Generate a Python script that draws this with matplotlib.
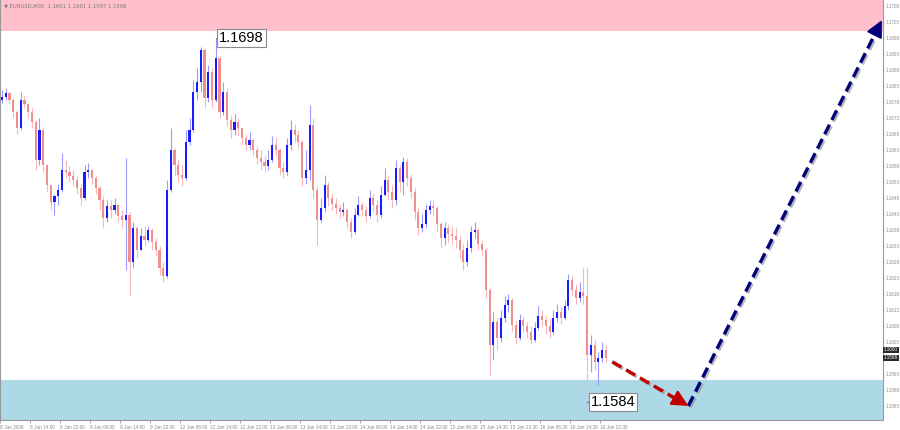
import matplotlib
matplotlib.use("Agg")
import matplotlib.pyplot as plt
import matplotlib.patheffects as pe

# ---------------- data (EURUSD M30) ----------------
first_open = 1.16786
close = [
    1.16796, 1.16808, 1.16786, 1.16749, 1.16699, 1.16786, 1.16774, 1.16749,
    1.16718, 1.16599, 1.16693, 1.16583, 1.16521, 1.16468, 1.16486, 1.16505,
    1.16568, 1.16561, 1.16549, 1.16536, 1.16511, 1.16480, 1.16561, 1.16568,
    1.16543, 1.16511, 1.16474, 1.16418, 1.16455, 1.16443, 1.16458, 1.16424,
    1.16411, 1.16427, 1.16280, 1.16386, 1.16318, 1.16361, 1.16349, 1.16380,
    1.16343, 1.16318, 1.16261, 1.16236, 1.16505, 1.16630, 1.16583, 1.16552,
    1.16543, 1.16655, 1.16693, 1.16811, 1.16843, 1.16943, 1.16793, 1.16874,
    1.16786, 1.16918, 1.16749, 1.16811, 1.16724, 1.16693, 1.16718, 1.16699,
    1.16668, 1.16646, 1.16661, 1.16630, 1.16605, 1.16593, 1.16580, 1.16599,
    1.16646, 1.16630, 1.16574, 1.16561, 1.16646, 1.16693, 1.16677, 1.16655,
    1.16543, 1.16568, 1.16708, 1.16505, 1.16411, 1.16449, 1.16521, 1.16480,
    1.16461, 1.16449, 1.16436, 1.16443, 1.16405, 1.16374, 1.16427, 1.16458,
    1.16443, 1.16424, 1.16480, 1.16458, 1.16427, 1.16490, 1.16536, 1.16499,
    1.16474, 1.16574, 1.16530, 1.16593, 1.16543, 1.16499, 1.16436, 1.16386,
    1.16399, 1.16443, 1.16455, 1.16449, 1.16399, 1.16355, 1.16386, 1.16368,
    1.16361, 1.16349, 1.16318, 1.16280, 1.16324, 1.16374, 1.16380, 1.16336,
    1.16318, 1.16193, 1.16021, 1.16093, 1.16043, 1.16105, 1.16146, 1.16161,
    1.16083, 1.16043, 1.16099, 1.16080, 1.16061, 1.16036, 1.16074, 1.16111,
    1.16099, 1.16080, 1.16061, 1.16105, 1.16124, 1.16105, 1.16143, 1.16224,
    1.16193, 1.16168, 1.16186, 1.16174, 1.15989, 1.16021, 1.15968, 1.15980,
    1.16005, 1.15980,
]
high = [
    1.16818, 1.16824, 1.16811, 1.16793, 1.16755, 1.16811, 1.16799, 1.16774,
    1.16761, 1.16724, 1.16730, 1.16699, 1.16583, 1.16521, 1.16493, 1.16524,
    1.16621, 1.16599, 1.16580, 1.16568, 1.16549, 1.16524, 1.16583, 1.16589,
    1.16568, 1.16549, 1.16518, 1.16486, 1.16474, 1.16474, 1.16480, 1.16461,
    1.16443, 1.16605, 1.16436, 1.16405, 1.16393, 1.16386, 1.16393, 1.16393,
    1.16386, 1.16355, 1.16330, 1.16280, 1.16536, 1.16699, 1.16636, 1.16599,
    1.16583, 1.16693, 1.16730, 1.16849, 1.16886, 1.16952, 1.16949, 1.16896,
    1.16886, 1.16980, 1.16924, 1.16843, 1.16824, 1.16736, 1.16743, 1.16730,
    1.16699, 1.16680, 1.16686, 1.16668, 1.16643, 1.16630, 1.16611, 1.16630,
    1.16674, 1.16668, 1.16636, 1.16593, 1.16668, 1.16724, 1.16711, 1.16693,
    1.16661, 1.16630, 1.16771, 1.16730, 1.16518, 1.16480, 1.16552, 1.16530,
    1.16493, 1.16480, 1.16461, 1.16468, 1.16449, 1.16418, 1.16449, 1.16486,
    1.16468, 1.16455, 1.16505, 1.16493, 1.16474, 1.16518, 1.16574, 1.16549,
    1.16521, 1.16599, 1.16583, 1.16608, 1.16605, 1.16555, 1.16511, 1.16449,
    1.16430, 1.16461, 1.16474, 1.16474, 1.16455, 1.16405, 1.16405, 1.16399,
    1.16393, 1.16386, 1.16361, 1.16336, 1.16349, 1.16393, 1.16405, 1.16386,
    1.16349, 1.16324, 1.16199, 1.16124, 1.16105, 1.16130, 1.16174, 1.16180,
    1.16168, 1.16099, 1.16118, 1.16111, 1.16093, 1.16080, 1.16093, 1.16143,
    1.16130, 1.16111, 1.16105, 1.16130, 1.16149, 1.16143, 1.16161, 1.16243,
    1.16236, 1.16211, 1.16218, 1.16261, 1.16264, 1.16052, 1.16036, 1.15999,
    1.16030, 1.16021,
]
low = [
    1.16777, 1.16786, 1.16774, 1.16730, 1.16680, 1.16693, 1.16761, 1.16730,
    1.16699, 1.16568, 1.16583, 1.16561, 1.16499, 1.16443, 1.16427, 1.16458,
    1.16499, 1.16543, 1.16530, 1.16518, 1.16493, 1.16458, 1.16474, 1.16543,
    1.16524, 1.16493, 1.16443, 1.16386, 1.16405, 1.16418, 1.16430, 1.16405,
    1.16386, 1.16255, 1.16177, 1.16261, 1.16293, 1.16318, 1.16330, 1.16343,
    1.16318, 1.16299, 1.16239, 1.16218, 1.16230, 1.16499, 1.16552, 1.16530,
    1.16518, 1.16536, 1.16646, 1.16686, 1.16786, 1.16811, 1.16761, 1.16780,
    1.16761, 1.16780, 1.16730, 1.16740, 1.16705, 1.16668, 1.16677, 1.16674,
    1.16646, 1.16630, 1.16630, 1.16611, 1.16586, 1.16568, 1.16561, 1.16568,
    1.16593, 1.16611, 1.16552, 1.16543, 1.16552, 1.16630, 1.16655, 1.16636,
    1.16518, 1.16524, 1.16536, 1.16480, 1.16333, 1.16405, 1.16436, 1.16455,
    1.16443, 1.16430, 1.16418, 1.16424, 1.16386, 1.16355, 1.16368, 1.16424,
    1.16424, 1.16405, 1.16418, 1.16436, 1.16405, 1.16418, 1.16486, 1.16474,
    1.16449, 1.16458, 1.16499, 1.16490, 1.16518, 1.16480, 1.16411, 1.16364,
    1.16374, 1.16386, 1.16430, 1.16424, 1.16374, 1.16327, 1.16333, 1.16343,
    1.16336, 1.16324, 1.16293, 1.16255, 1.16268, 1.16311, 1.16355, 1.16318,
    1.16299, 1.16168, 1.15927, 1.15974, 1.16005, 1.16030, 1.16093, 1.16124,
    1.16061, 1.16024, 1.16036, 1.16061, 1.16043, 1.16024, 1.16030, 1.16068,
    1.16080, 1.16055, 1.16043, 1.16055, 1.16093, 1.16086, 1.16099, 1.16130,
    1.16174, 1.16149, 1.16155, 1.16149, 1.15843, 1.15936, 1.15943, 1.15896,
    1.15968, 1.15968,
]

x_labels = ["8 Jan 2026", "8 Jan 14:00", "8 Jan 22:00", "9 Jan 06:00", "9 Jan 14:00",
            "9 Jan 22:00", "12 Jan 06:00", "12 Jan 14:00", "12 Jan 22:00", "13 Jan 06:00",
            "13 Jan 14:00", "13 Jan 22:00", "14 Jan 06:00", "14 Jan 14:00", "14 Jan 22:00",
            "15 Jan 06:30", "15 Jan 14:30", "15 Jan 22:30", "16 Jan 06:30", "16 Jan 14:30",
            "16 Jan 22:30"]
y_labels = ["1.1708", "1.1703", "1.1698", "1.1693", "1.1688", "1.1683", "1.1678",
            "1.1673", "1.1668", "1.1663", "1.1658", "1.1653", "1.1648", "1.1643",
            "1.1638", "1.1633", "1.1628", "1.1623", "1.1618", "1.1613", "1.1608",
            "1.1603", "1.1598", "1.1593", "1.1588", "1.1583"]
title_text = "\u25BC EURUSD,M30  1.1601 1.1601 1.1597 1.1598"
price_boxes = ["1.1600", "1.1598"]
price_box_values = [1.16005, 1.15980]

resistance_zone = [1.17002, 1.17200]
support_zone = [1.15700, 1.15911]
extreme_high = ("1.1698", 57, 1.1698)
extreme_low = ("1.1584", 156, 1.15843)
forecast_bars = [162.7, 183.0, 234.6]
forecast_prices = [1.15968, 1.15830, 1.17036]
forecast_colors = ["#c00000", "#00007a"]

y_min, y_max = 1.15786, 1.17099
x_min, x_max = -0.53, 234.9

# ---------------- figure ----------------
W, H = 900, 430
SMALL = dict(family="Liberation Sans")
fig = plt.figure(figsize=(9, 4.3), dpi=100)
ax = fig.add_axes([0, 10 / H, 883 / W, 420 / H])
ax.set_xlim(x_min, x_max)
ax.set_ylim(y_min, y_max)

ax.axhspan(resistance_zone[0], resistance_zone[1], color="#ffc0cb", zorder=0, lw=0)
ax.axhspan(support_zone[0], support_zone[1], color="#add8e6", zorder=0, lw=0)

opens = [first_open] + close[:-1]
for i, (o, c, h, l) in enumerate(zip(opens, close, high, low)):
    up = c >= o
    wick = "#9a9aff" if up else "#f6b8b8"
    body = "#1a1aff" if up else "#f18e8e"
    ax.vlines(i, min(l, o, c), max(h, o, c), color=wick, lw=0.8, zorder=3)
    ax.bar(i, max(abs(c - o), 0.000012), bottom=min(o, c), width=0.55,
           color=body, linewidth=0, zorder=4)

# extreme labels
for txt, bx, py in [extreme_high, extreme_low]:
    ax.plot([bx, bx + 0.9], [py, py], color="#777777", lw=0.8, zorder=5)
    ax.text(bx + 0.9, py, txt, ha="left", va="center", fontsize=10.5,
            family="Liberation Sans", color="black", zorder=6,
            bbox=dict(boxstyle="square,pad=0.12", fc="white", ec="#8a8a8a", lw=0.8))

# forecast arrows
shadow = [pe.SimpleLineShadow(offset=(1.2, -1.2), shadow_color="#888888", alpha=0.6), pe.Normal()]
for k in range(2):
    x0, x1 = forecast_bars[k], forecast_bars[k + 1]
    y0, y1 = forecast_prices[k], forecast_prices[k + 1]
    col = forecast_colors[k]
    f = 0.92 if k == 0 else 0.97
    xm, ym = x0 + (x1 - x0) * f, y0 + (y1 - y0) * f
    ax.plot([x0, xm], [y0, ym], color=col, lw=2.4, dashes=(3.2, 1.6),
            zorder=7, path_effects=shadow, solid_capstyle="butt")
    ax.annotate("", xy=(x1, y1), xytext=(xm, ym),
                arrowprops=dict(arrowstyle="-|>,head_length=1.0,head_width=0.5",
                                color=col, lw=1.5, shrinkA=0, shrinkB=0), zorder=8)

# axes styling
ax.spines["top"].set_visible(False)
for s in ["left", "right", "bottom"]:
    ax.spines[s].set_color("#9a9a9a")
    ax.spines[s].set_linewidth(0.8)

ax.yaxis.tick_right()
ax.set_yticks([float(v) for v in y_labels])
# the tick labels hidden behind the current-price boxes are left blank
ax.set_yticklabels(["" if v in price_boxes else v for v in y_labels], **SMALL)
ax.tick_params(axis="y", labelsize=3.3, labelcolor="#8a8a8a", color="#9a9a9a",
               length=1.0, width=0.6, pad=0.8)

ax.set_xticks([8 * k - 0.5 for k in range(len(x_labels))])
ax.set_xticklabels(x_labels, **SMALL)
for lbl in ax.get_xticklabels():
    lbl.set_horizontalalignment("left")
ax.tick_params(axis="x", labelsize=3.4, labelcolor="#8a8a8a", color="#9a9a9a",
               length=2, width=0.6, pad=1.5)

# current price boxes
for txt, pv in zip(price_boxes, price_box_values):
    ax.text(1.0012, pv, txt, transform=ax.get_yaxis_transform(), ha="left", va="center",
            fontsize=3.3, color="white", zorder=9, clip_on=False, **SMALL,
            bbox=dict(boxstyle="square,pad=0.15", fc="#2a2a2a", ec="none"))

# title
ax.text(0.004, 0.992, title_text, transform=ax.transAxes, ha="left", va="top",
        fontsize=3.8, color="#7a7a7a", zorder=9)

fig.savefig("out.png", dpi=100)
